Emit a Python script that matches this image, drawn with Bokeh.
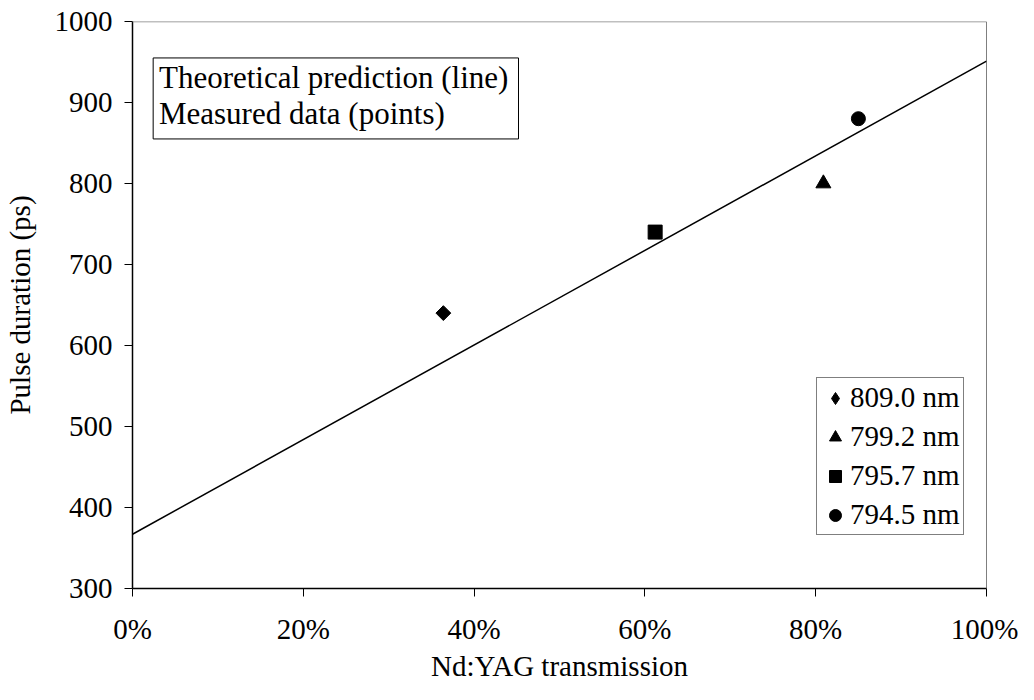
import math
from bokeh.plotting import figure
from bokeh.models import (Range1d, NumeralTickFormatter, FixedTicker,
                          Span, BoxAnnotation, Label, Legend, LegendItem)
from bokeh.embed import file_html
from bokeh.resources import INLINE

# ---- data ----
trans_809 = [0.364]
pulse_809 = [640]
trans_799 = [0.809]
pulse_799 = [800]
trans_7957 = [0.612]
pulse_7957 = [740]
trans_7945 = [0.85]
pulse_7945 = [880]
theory_x = [0.0, 1.0]
theory_y = [367, 951]
labels = ["809.0 nm", "799.2 nm", "795.7 nm", "794.5 nm"]
x_ticks = [0, 0.2, 0.4, 0.6, 0.8, 1.0]
y_ticks = [300, 400, 500, 600, 700, 800, 900, 1000]

FONT = "Liberation Serif"
FS = "29px"

p = figure(width=1018, height=684, output_backend="svg", toolbar_location=None,
           x_range=Range1d(0, 1), y_range=Range1d(300, 1000),
           min_border_left=127, min_border_right=32, min_border_top=21, min_border_bottom=94)
p.background_fill_color = "white"
p.border_fill_color = "white"
p.outline_line_color = None
p.grid.visible = False

for ax in (p.xaxis[0], p.yaxis[0]):
    ax.axis_line_color = "black"
    ax.axis_line_width = 1.5
    ax.major_tick_line_color = "black"
    ax.major_tick_out = 8
    ax.major_tick_in = 0
    ax.minor_tick_line_color = None
    ax.major_label_text_font = FONT
    ax.major_label_text_font_size = FS
    ax.major_label_text_color = "black"
    ax.axis_label_text_font = FONT
    ax.axis_label_text_font_size = FS
    ax.axis_label_text_font_style = "normal"
    ax.axis_label_text_color = "black"

p.xaxis.ticker = FixedTicker(ticks=x_ticks)
p.xaxis.formatter = NumeralTickFormatter(format="0%")
p.yaxis.ticker = FixedTicker(ticks=y_ticks)
p.xaxis.axis_label = "Nd:YAG transmission"
p.yaxis.axis_label = "Pulse duration (ps)"
p.xaxis.major_label_standoff = 16
p.yaxis.major_label_standoff = 12
p.xaxis.axis_label_standoff = 2
p.yaxis.axis_label_standoff = 16

p.add_layout(Span(location=1000, dimension="width", line_color="#808080", line_width=1.5))
p.add_layout(Span(location=1.0, dimension="height", line_color="black", line_width=1))

# theoretical line
p.line(theory_x, theory_y, line_color="black", line_width=1.5)

r1 = p.scatter(trans_809, pulse_809, marker="square", angle=math.pi / 4, size=10.5, color="black")
r2 = p.scatter(trans_799, pulse_799, marker="triangle", size=15, color="black")
r3 = p.scatter(trans_7957, pulse_7957, marker="square", size=14, color="black")
r4 = p.scatter(trans_7945, pulse_7945, marker="circle", size=14, color="black")
# hidden renderer that only supplies the diamond key in the legend
r1_key = p.scatter(trans_809, pulse_809, marker="diamond", size=14, color="black", visible=False)

legend = Legend(items=[LegendItem(label=labels[0], renderers=[r1_key]),
                       LegendItem(label=labels[1], renderers=[r2]),
                       LegendItem(label=labels[2], renderers=[r3]),
                       LegendItem(label=labels[3], renderers=[r4])],
                location=(684, 53))
legend.label_text_font = FONT
legend.label_text_font_size = FS
legend.label_text_color = "black"
legend.border_line_color = "black"
legend.border_line_width = 1
legend.background_fill_alpha = 1
legend.inactive_fill_alpha = 0
legend.glyph_width = 30
legend.glyph_height = 30
legend.label_standoff = 0
legend.spacing = 6
legend.padding = 3
legend.margin = 0
p.add_layout(legend)

# annotation box
p.add_layout(BoxAnnotation(left=0.0242, right=0.452, top=955, bottom=855,
                           fill_color="white", fill_alpha=1,
                           line_color="black", line_width=1, line_alpha=1))
p.add_layout(Label(x=0.031, y=931, text="Theoretical prediction (line)",
                   text_font=FONT, text_font_size="31px", text_baseline="alphabetic",
                   text_color="black"))
p.add_layout(Label(x=0.031, y=887, text="Measured data (points)",
                   text_font=FONT, text_font_size="31px", text_baseline="alphabetic",
                   text_color="black"))

open("out.html", "w").write(file_html(p, INLINE))
